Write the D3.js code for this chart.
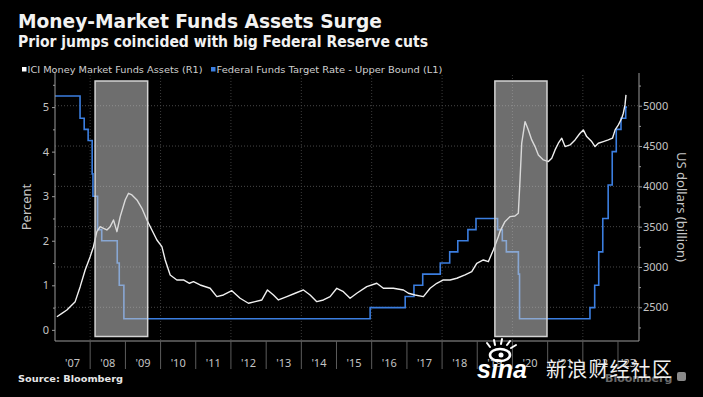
<!DOCTYPE html>
<html>
<head>
<meta charset="utf-8">
<title>Money-Market Funds Assets Surge</title>
<script src="https://cdn.jsdelivr.net/npm/d3@7"></script>
<style>
  body { margin: 0; background: #000; }
  svg { display: block; }
</style>
</head>
<body>
<div id="chart"></div>
<script>
// ICI money market fund assets, US$ billion (decimal years)
const assetDates = [2007.054, 2007.196, 2007.338, 2007.574, 2007.716, 2007.858, 2008.0, 2008.094, 2008.19, 2008.284,
  2008.378, 2008.474, 2008.568, 2008.662, 2008.759, 2008.852, 2008.994, 2009.088, 2009.185, 2009.327,
  2009.469, 2009.611, 2009.753, 2009.895, 2010.037, 2010.131, 2010.273, 2010.463, 2010.651, 2010.821,
  2010.935, 2011.125, 2011.409, 2011.599, 2011.787, 2012.026, 2012.261, 2012.497, 2012.688, 2012.878,
  2013.037, 2013.207, 2013.349, 2013.588, 2013.824, 2014.06, 2014.25, 2014.44, 2014.628, 2014.818,
  2015.009, 2015.196, 2015.386, 2015.577, 2015.861, 2016.145, 2016.332, 2016.616, 2016.901, 2017.043,
  2017.233, 2017.469, 2017.659, 2017.849, 2018.037, 2018.227, 2018.418, 2018.653, 2018.844, 2018.986,
  2019.173, 2019.315, 2019.457, 2019.599, 2019.645, 2019.787, 2019.93, 2020.071, 2020.168, 2020.216,
  2020.264, 2020.358, 2020.452, 2020.548, 2020.642, 2020.736, 2020.878, 2021.02, 2021.116, 2021.21,
  2021.304, 2021.401, 2021.494, 2021.636, 2021.778, 2021.92, 2022.014, 2022.11, 2022.253, 2022.347,
  2022.44, 2022.582, 2022.724, 2022.844, 2022.918, 2023.011, 2023.105, 2023.151, 2023.199, 2023.227];
const assetValues = [2383, 2425, 2466, 2570, 2756, 2963, 3128, 3252, 3438, 3500,
  3480, 3459, 3500, 3583, 3438, 3624, 3831, 3914, 3893, 3831,
  3728, 3583, 3459, 3335, 3252, 3087, 2901, 2839, 2839, 2798,
  2818, 2777, 2736, 2632, 2653, 2706, 2612, 2550, 2570, 2591,
  2715, 2653, 2591, 2632, 2674, 2715, 2653, 2570, 2591, 2632,
  2736, 2694, 2612, 2674, 2756, 2798, 2736, 2736, 2715, 2674,
  2653, 2632, 2736, 2798, 2839, 2839, 2860, 2901, 2942, 3046,
  3087, 3066, 3211, 3376, 3438, 3562, 3624, 3633, 3666, 4080,
  4535, 4803, 4700, 4576, 4493, 4390, 4328, 4307, 4349, 4452,
  4535, 4597, 4493, 4514, 4576, 4659, 4700, 4617, 4555, 4493,
  4535, 4555, 4576, 4597, 4700, 4762, 4845, 4907, 5010, 5134];

// Federal funds target rate, upper bound (%), value from that date on
const rateDates = ["2007-01-01", "2007-09-18", "2007-10-31", "2007-12-11", "2008-01-22", "2008-01-30",
  "2008-03-18", "2008-04-30", "2008-10-08", "2008-10-29", "2008-12-16", "2015-12-16", "2016-12-14",
  "2017-03-15", "2017-06-14", "2017-12-13", "2018-03-21", "2018-06-13", "2018-09-26", "2018-12-19",
  "2019-07-31", "2019-09-18", "2019-10-30", "2020-03-03", "2020-03-15", "2022-03-16", "2022-05-04",
  "2022-06-15", "2022-07-27", "2022-09-21", "2022-11-02", "2022-12-14", "2023-02-01", "2023-03-22",
  "2023-04-05"];
const rateValues = [5.25, 4.75, 4.5, 4.25, 3.5, 3.0,
  2.25, 2.0, 1.5, 1.0, 0.25, 0.5, 0.75,
  1.0, 1.25, 1.5, 1.75, 2.0, 2.25, 2.5,
  2.25, 2.0, 1.75, 1.25, 0.25, 0.5, 1.0,
  1.75, 2.5, 3.25, 4.0, 4.5, 4.75, 5.0,
  5.0];

const shadeStarts = ["2008-02-21", "2019-07-03"];
const shadeEnds = ["2009-08-20", "2020-12-25"];

const yearLabels = ["'07", "'08", "'09", "'10", "'11", "'12", "'13", "'14", "'15", "'16",
  "'17", "'18", "'19", "'20", "'21", "'22", "'23"];
const leftTicks = [0, 1, 2, 3, 4, 5];
const rightTicks = [2500, 3000, 3500, 4000, 4500, 5000];

const width = 703, height = 397;
const parse = d3.utcParse("%Y-%m-%d");
function fromDecimal(y) {
    const yr = Math.floor(y);
    const a = Date.UTC(yr, 0, 1), b = Date.UTC(yr + 1, 0, 1);
    return new Date(a + (y - yr) * (b - a));
}

const svg = d3.select("#chart").append("svg")
    .attr("width", width)
    .attr("height", height)
    .style("background", "#000");

const font = "'DejaVu Sans', sans-serif";
const tickFont = "'Noto Sans', sans-serif";

// scales
const start = new Date(Date.UTC(2007, 0, 1)), end = new Date(Date.UTC(2023, 7, 7));
const x = d3.scaleUtc().domain([start, end]).range([55, 639]);
const yL = d3.scaleLinear().domain([-0.25, 5.72]).range([341, 75]);
const yR = d3.scaleLinear().domain([2082, 5381]).range([341, 75]);

// titles
svg.append("text").attr("x", 18).attr("y", 28)
    .attr("font-family", font).attr("font-weight", "bold").attr("font-size", 20)
    .attr("fill", "#f2f2f2").attr("textLength", 364).attr("lengthAdjust", "spacingAndGlyphs")
    .text("Money-Market Funds Assets Surge");
svg.append("text").attr("x", 18).attr("y", 47)
    .attr("font-family", font).attr("font-weight", "bold").attr("font-size", 15)
    .attr("fill", "#f2f2f2").attr("textLength", 410).attr("lengthAdjust", "spacingAndGlyphs")
    .text("Prior jumps coincided with big Federal Reserve cuts");

// legend
const legend = [
    { label: "ICI Money Market Funds Assets  (R1)", color: "#ffffff", x: 22, len: 175 },
    { label: "Federal Funds Target Rate - Upper Bound  (L1)", color: "#3b7ee0", x: 211, len: 226 }
];
legend.forEach(d => {
    svg.append("rect").attr("x", d.x).attr("y", 67).attr("width", 4.5).attr("height", 4.5).attr("fill", d.color);
    svg.append("text").attr("x", d.x + 5.5).attr("y", 72.5)
        .attr("font-family", font).attr("font-size", 8.5).attr("fill", "#cfcfcf")
        .attr("textLength", d.len).attr("lengthAdjust", "spacingAndGlyphs")
        .text(d.label);
});

// gridlines
const grid = svg.append("g");
grid.selectAll("line.h").data(rightTicks).enter().append("line")
    .attr("x1", 55).attr("x2", 639)
    .attr("y1", d => yR(d)).attr("y2", d => yR(d))
    .attr("stroke", "#5a5a5a").attr("stroke-width", 0.8).attr("stroke-dasharray", "1,2");
const evenYears = d3.utcYear.every(2).range(new Date(Date.UTC(2008, 0, 1)), end);
grid.selectAll("line.v").data(evenYears).enter().append("line")
    .attr("x1", d => x(d)).attr("x2", d => x(d))
    .attr("y1", 75).attr("y2", 341)
    .attr("stroke", "#4a4a4a").attr("stroke-width", 0.8).attr("stroke-dasharray", "1,2");

// fed funds rate
const rateData = rateDates.map((d, i) => ({ date: parse(d), value: rateValues[i] }));
svg.append("path").datum(rateData)
    .attr("fill", "none").attr("stroke", "#3b7ee0").attr("stroke-width", 1.6)
    .attr("d", d3.line().x(d => x(d.date)).y(d => yL(d.value)).curve(d3.curveStepAfter));

// money market assets
const assetData = assetDates.map((d, i) => ({ date: fromDecimal(d), value: assetValues[i] }));
svg.append("path").datum(assetData)
    .attr("fill", "none").attr("stroke", "#f0f0f0").attr("stroke-width", 1.4)
    .attr("stroke-linejoin", "round")
    .attr("d", d3.line().x(d => x(d.date)).y(d => yR(d.value)));

// shaded periods
svg.selectAll("rect.shade").data(shadeStarts).enter().append("rect")
    .attr("x", d => x(parse(d)))
    .attr("width", (d, i) => x(parse(shadeEnds[i])) - x(parse(d)))
    .attr("y", 81).attr("height", 255.5)
    .attr("fill", "#c8c8c8").attr("fill-opacity", 0.55)
    .attr("stroke", "#d4d4d4").attr("stroke-width", 1.5);

// axes
const axisColor = "#9a9a9a", labelColor = "#c4c4c4";
svg.append("line").attr("x1", 55).attr("x2", 55).attr("y1", 73).attr("y2", 341).attr("stroke", axisColor);
svg.append("line").attr("x1", 639).attr("x2", 639).attr("y1", 73).attr("y2", 341).attr("stroke", axisColor);
svg.append("line").attr("x1", 55).attr("x2", 639).attr("y1", 341).attr("y2", 341).attr("stroke", axisColor);

const gl = svg.append("g").attr("transform", "translate(55,0)")
    .call(d3.axisLeft(yL).tickValues(leftTicks).tickSize(3).tickPadding(3).tickFormat(d3.format("d")));
gl.select(".domain").remove();
gl.selectAll("line").attr("stroke", axisColor);
gl.selectAll("text").attr("fill", labelColor).attr("font-family", tickFont).attr("font-size", 11);
const glm = svg.append("g").attr("transform", "translate(55,0)")
    .call(d3.axisLeft(yL).tickValues(d3.range(0.5, 5.6, 1)).tickSize(2).tickFormat(""));
glm.select(".domain").remove();
glm.selectAll("line").attr("stroke", axisColor);

const gr = svg.append("g").attr("transform", "translate(639,0)")
    .call(d3.axisRight(yR).tickValues(rightTicks).tickSize(3).tickPadding(1).tickFormat(d3.format("d")));
gr.select(".domain").remove();
gr.selectAll("line").attr("stroke", axisColor);
gr.selectAll("text").attr("fill", labelColor).attr("font-family", tickFont).attr("font-size", 11);
const grm = svg.append("g").attr("transform", "translate(639,0)")
    .call(d3.axisRight(yR).tickValues(d3.range(2250, 5300, 500)).tickSize(2).tickFormat(""));
grm.select(".domain").remove();
grm.selectAll("line").attr("stroke", axisColor);

// year separators and labels
const yearStarts = d3.utcYear.range(new Date(Date.UTC(2008, 0, 1)), end);
svg.selectAll("line.sep").data(yearStarts).enter().append("line")
    .attr("x1", d => x(d)).attr("x2", d => x(d))
    .attr("y1", 341).attr("y2", 369)
    .attr("stroke", "#5c5c5c").attr("stroke-width", 1);
svg.selectAll("text.yr").data(yearLabels).enter().append("text")
    .attr("x", (d, i) => {
        const a = Math.max(x(new Date(Date.UTC(2007 + i, 0, 1))), x.range()[0]);
        const b = Math.min(x(new Date(Date.UTC(2008 + i, 0, 1))), x.range()[1]);
        return (a + b) / 2;
    })
    .attr("y", 367)
    .attr("text-anchor", "middle")
    .attr("font-family", tickFont).attr("font-size", 11).attr("fill", labelColor)
    .text(d => d);

// axis titles
svg.append("text").attr("transform", "translate(31,207) rotate(-90)")
    .attr("text-anchor", "middle").attr("font-family", tickFont).attr("font-size", 13)
    .attr("fill", labelColor).text("Percent");
svg.append("text").attr("transform", "translate(677,207) rotate(90)")
    .attr("text-anchor", "middle").attr("font-family", tickFont).attr("font-size", 13)
    .attr("fill", labelColor).text("US dollars (billion)");

// source
svg.append("text").attr("x", 18).attr("y", 382)
    .attr("font-family", font).attr("font-weight", "bold").attr("font-size", 9)
    .attr("fill", "#e6e6e6").attr("textLength", 105).attr("lengthAdjust", "spacingAndGlyphs")
    .text("Source: Bloomberg");

// watermark
svg.append("text").attr("x", 605).attr("y", 382)
    .attr("font-family", font).attr("font-weight", "bold").attr("font-size", 11)
    .attr("fill", "#6a6a6a").text("Bloomberg");
svg.append("rect").attr("x", 677).attr("y", 372).attr("width", 9).attr("height", 9)
    .attr("rx", 2).attr("fill", "#8a8a8a");
const eye = svg.append("g").attr("fill", "none").attr("stroke", "#fff").attr("stroke-linecap", "round");
eye.append("ellipse").attr("cx", 500).attr("cy", 355).attr("rx", 10).attr("ry", 6).attr("stroke-width", 2.6);
eye.append("circle").attr("cx", 501).attr("cy", 355).attr("r", 2.5).attr("fill", "#fff").attr("stroke", "none");
[[490, 347, 487, 343], [495, 345, 494, 340], [501, 344, 502, 339], [507, 345, 510, 341], [511, 348, 516, 345]]
    .forEach(s => eye.append("line").attr("x1", s[0]).attr("y1", s[1]).attr("x2", s[2]).attr("y2", s[3]).attr("stroke-width", 2));
svg.append("text").attr("x", 477).attr("y", 378)
    .attr("font-family", "'Liberation Sans', sans-serif").attr("font-weight", "bold")
    .attr("font-style", "italic").attr("font-size", 25).attr("fill", "#fff")
    .text("sina");
svg.append("text").attr("x", 546).attr("y", 377)
    .attr("font-family", "'Noto Sans CJK SC', sans-serif").attr("font-size", 20)
    .attr("fill", "#f0f0f0").attr("textLength", 126).attr("lengthAdjust", "spacing")
    .text("新浪财经社区");
</script>
</body>
</html>
